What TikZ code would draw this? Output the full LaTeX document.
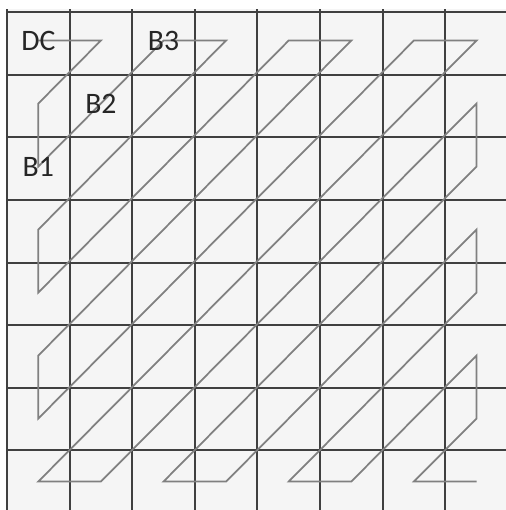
\documentclass[tikz,border=0pt]{standalone}
\usepackage{fontspec}
\setmainfont{Carlito}
\begin{document}
\begin{tikzpicture}[x=1cm,y=1.0064cm,
  gridline/.style={line width=0.9pt,black!75},
  scanline/.style={line width=0.8pt,black!50,line join=miter},
  blocklab/.style={font=\fontsize{13.5}{16}\selectfont,text=black!85,inner sep=0pt}]
  \useasboundingbox (-0.112,0.048) rectangle (7.955,8.143);
  \fill[black!4] (0,0) rectangle (8,8);
  \draw[gridline] (0,0) grid (8,8);
  \foreach \c in {0,...,7}
    \foreach \r in {0,...,7}
      \coordinate (c\c r\r) at (\c+0.5,7.5-\r);
  % zigzag scan, turning points only
  \draw[scanline] (c0r0) -- (c1r0) -- (c0r1) -- (c0r2) -- (c2r0) -- (c3r0)
    -- (c0r3) -- (c0r4) -- (c4r0) -- (c5r0) -- (c0r5) -- (c0r6) -- (c6r0)
    -- (c7r0) -- (c0r7) -- (c1r7) -- (c7r1) -- (c7r2) -- (c2r7) -- (c3r7)
    -- (c7r3) -- (c7r4) -- (c4r7) -- (c5r7) -- (c7r5) -- (c7r6) -- (c6r7)
    -- (c7r7);
  \node[blocklab] (dc) at (c0r0) {DC};
  \node[blocklab] (b1) at (c0r2) {B1};
  \node[blocklab] (b2) at (c1r1) {B2};
  \node[blocklab] (b3) at (c2r0) {B3};
\end{tikzpicture}
\end{document}
